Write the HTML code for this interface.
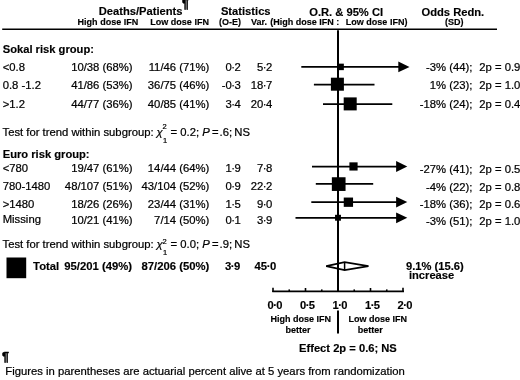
<!DOCTYPE html>
<html><head><meta charset="utf-8"><title>Forest plot</title>
<style>
html,body{margin:0;padding:0;background:#fff;}
body{width:520px;height:380px;overflow:hidden;}
svg{display:block;will-change:transform;font-family:"Liberation Sans",sans-serif;font-size:11.29px;fill:#000;}
svg text{stroke:#000;stroke-width:0.22px;}
svg text[font-weight=bold]{stroke-width:0.15px;}
</style></head><body>
<svg width="520" height="380" viewBox="0 0 520 380">
<rect x="0" y="0" width="520" height="380" fill="#fff"/>
<text x="98.7" y="14.9" font-weight="bold" font-size="11.18">Deaths/Patients</text>
<text x="181.9" y="8.2" font-weight="bold" font-size="12.5" style="stroke-width:0.5px">¶</text>
<text x="220.9" y="14.7" font-weight="bold" font-size="11.18">Statistics</text>
<text x="309.2" y="15.5" font-weight="bold" font-size="11.18">O.R. &amp; 95% CI</text>
<text x="421.5" y="15.7" font-weight="bold" font-size="11.18">Odds Redn.</text>
<text x="77.6" y="25.4" font-weight="bold" font-size="9.03">High dose IFN</text>
<text x="150.3" y="25.4" font-weight="bold" font-size="9.03">Low dose IFN</text>
<text x="219" y="25.15" font-weight="bold" font-size="9.03">(O-E)</text>
<text x="250.9" y="25.15" font-weight="bold" font-size="9.03">Var.</text>
<text x="270.2" y="25.15" font-weight="bold" font-size="9.03">(High dose IFN :</text>
<text x="345.8" y="24.85" font-weight="bold" font-size="9.03">Low dose IFN)</text>
<text x="445" y="24.8" font-weight="bold" font-size="9.03">(SD)</text>
<line x1="2.2" y1="29.3" x2="497" y2="29.3" stroke="#000" stroke-width="1.5"/>
<line x1="338" y1="30.3" x2="338" y2="291.4" stroke="#000" stroke-width="2"/>
<text x="2.7" y="70.5">&lt;0.8</text>
<text x="132.6" y="70.5" text-anchor="end">10/38 (68%)</text>
<text x="209.3" y="70.5" text-anchor="end">11/46 (71%)</text>
<text x="240.8" y="70.5" text-anchor="end">0<tspan dx="-0.5">·</tspan><tspan dx="-0.5">2</tspan></text>
<text x="272.4" y="70.5" text-anchor="end">5<tspan dx="-0.5">·</tspan><tspan dx="-0.5">2</tspan></text>
<line x1="301.3" y1="66.9" x2="401.5" y2="66.9" stroke="#000" stroke-width="1.75"/>
<polygon points="409.5,66.9 398.3,61.50000000000001 398.3,72.30000000000001" fill="#000"/>
<rect x="337.35" y="63.65" width="6.5" height="6.5" fill="#000"/>
<text x="472.4" y="70.5" text-anchor="end">-3% (44);</text>
<text x="479.3" y="70.5">2p = 0.9</text>
<text x="2.7" y="88.75">0.8 -1.2</text>
<text x="132.6" y="88.75" text-anchor="end">41/86 (53%)</text>
<text x="209.3" y="88.75" text-anchor="end">36/75 (46%)</text>
<text x="240.8" y="88.75" text-anchor="end">-0<tspan dx="-0.5">·</tspan><tspan dx="-0.5">3</tspan></text>
<text x="272.4" y="88.75" text-anchor="end">18<tspan dx="-0.5">·</tspan><tspan dx="-0.5">7</tspan></text>
<line x1="313.9" y1="84.5" x2="374.5" y2="84.5" stroke="#000" stroke-width="1.75"/>
<rect x="330.90" y="77.70" width="13" height="13" fill="#000"/>
<text x="472.4" y="88.75" text-anchor="end">1% (23);</text>
<text x="479.3" y="88.75">2p = 1.0</text>
<text x="2.7" y="108.4">&gt;1.2</text>
<text x="132.6" y="108.4" text-anchor="end">44/77 (36%)</text>
<text x="209.3" y="108.4" text-anchor="end">40/85 (41%)</text>
<text x="240.8" y="108.4" text-anchor="end">3<tspan dx="-0.5">·</tspan><tspan dx="-0.5">4</tspan></text>
<text x="272.4" y="108.4" text-anchor="end">20<tspan dx="-0.5">·</tspan><tspan dx="-0.5">4</tspan></text>
<line x1="323" y1="104" x2="392.3" y2="104" stroke="#000" stroke-width="1.75"/>
<rect x="343.70" y="97.40" width="13" height="13" fill="#000"/>
<text x="472.4" y="108.4" text-anchor="end">-18% (24);</text>
<text x="479.3" y="108.4">2p = 0.4</text>
<text x="2.7" y="172.2">&lt;780</text>
<text x="132.6" y="172.2" text-anchor="end">19/47 (61%)</text>
<text x="209.3" y="172.2" text-anchor="end">14/44 (64%)</text>
<text x="240.8" y="172.2" text-anchor="end">1<tspan dx="-0.5">·</tspan><tspan dx="-0.5">9</tspan></text>
<text x="272.4" y="172.2" text-anchor="end">7<tspan dx="-0.5">·</tspan><tspan dx="-0.5">8</tspan></text>
<line x1="312" y1="166.5" x2="399.3" y2="166.5" stroke="#000" stroke-width="1.75"/>
<polygon points="407.3,166.5 396.1,161.1 396.1,171.9" fill="#000"/>
<rect x="349.40" y="162.35" width="8.2" height="8.2" fill="#000"/>
<text x="472.4" y="173.2" text-anchor="end">-27% (41);</text>
<text x="479.3" y="173.2">2p = 0.5</text>
<text x="2.7" y="190">780-1480</text>
<text x="132.6" y="190" text-anchor="end">48/107 (51%)</text>
<text x="209.3" y="190" text-anchor="end">43/104 (52%)</text>
<text x="240.8" y="190" text-anchor="end">0<tspan dx="-0.5">·</tspan><tspan dx="-0.5">9</tspan></text>
<text x="272.4" y="190" text-anchor="end">22<tspan dx="-0.5">·</tspan><tspan dx="-0.5">2</tspan></text>
<line x1="315.8" y1="183.8" x2="373.2" y2="183.8" stroke="#000" stroke-width="1.75"/>
<rect x="331.85" y="177.25" width="13.7" height="13.7" fill="#000"/>
<text x="472.4" y="190.6" text-anchor="end">-4% (22);</text>
<text x="479.3" y="190.6">2p = 0.8</text>
<text x="2.7" y="207.5">&gt;1480</text>
<text x="132.6" y="207.5" text-anchor="end">18/26 (26%)</text>
<text x="209.3" y="207.5" text-anchor="end">23/44 (31%)</text>
<text x="240.8" y="207.5" text-anchor="end">1<tspan dx="-0.5">·</tspan><tspan dx="-0.5">5</tspan></text>
<text x="272.4" y="207.5" text-anchor="end">9<tspan dx="-0.5">·</tspan><tspan dx="-0.5">0</tspan></text>
<line x1="311.3" y1="202.1" x2="399.3" y2="202.1" stroke="#000" stroke-width="1.75"/>
<polygon points="407.3,202.1 396.1,196.7 396.1,207.5" fill="#000"/>
<rect x="343.75" y="197.55" width="9.3" height="9.3" fill="#000"/>
<text x="472.4" y="207.9" text-anchor="end">-18% (36);</text>
<text x="479.3" y="207.9">2p = 0.6</text>
<text x="2.7" y="223">Missing</text>
<text x="132.6" y="223.5" text-anchor="end">10/21 (41%)</text>
<text x="209.3" y="223.5" text-anchor="end">7/14 (50%)</text>
<text x="240.8" y="223.5" text-anchor="end">0<tspan dx="-0.5">·</tspan><tspan dx="-0.5">1</tspan></text>
<text x="272.4" y="223.5" text-anchor="end">3<tspan dx="-0.5">·</tspan><tspan dx="-0.5">9</tspan></text>
<line x1="295.5" y1="217.85" x2="399.3" y2="217.85" stroke="#000" stroke-width="1.75"/>
<polygon points="407.3,217.85 396.1,212.45 396.1,223.25" fill="#000"/>
<rect x="335.05" y="214.80" width="5.9" height="5.9" fill="#000"/>
<text x="472.4" y="225.1" text-anchor="end">-3% (51);</text>
<text x="479.3" y="225.1">2p = 1.0</text>
<text x="2.7" y="53" font-weight="bold" font-size="11.18">Sokal risk group:</text>
<text x="2.7" y="158" font-weight="bold" font-size="11.18">Euro risk group:</text>
<text x="2.5" y="136.0">Test for trend within subgroup:</text>
<text x="156.6" y="136.0" font-style="italic">χ</text>
<text x="162.4" y="129.1" font-size="7.5">2</text>
<text x="162.9" y="142.8" font-size="7.5">1</text>
<text x="170.6" y="136.0">= 0.2;</text>
<text x="202.3" y="136.0" font-style="italic">P</text>
<text x="212" y="136.0">=<tspan dx="1">.6;</tspan><tspan dx="-1"> NS</tspan></text>
<text x="2.5" y="248.0">Test for trend within subgroup:</text>
<text x="156.6" y="248.0" font-style="italic">χ</text>
<text x="162.4" y="243.8" font-size="7.5">2</text>
<text x="162.9" y="254.8" font-size="7.5">1</text>
<text x="170.6" y="248.0">= 0.0;</text>
<text x="202.3" y="248.0" font-style="italic">P</text>
<text x="212" y="248.0">=<tspan dx="1">.9;</tspan><tspan dx="-1"> NS</tspan></text>
<rect x="6.50" y="257.50" width="19.7" height="20.7" fill="#000"/>
<text x="33.1" y="270.3" font-weight="bold" font-size="11.3">Total</text>
<text x="132.1" y="270.3" text-anchor="end" font-weight="bold" font-size="11.3">95/201 (49%)</text>
<text x="209.3" y="270.3" text-anchor="end" font-weight="bold" font-size="11.3">87/206 (50%)</text>
<text x="240.3" y="270.3" text-anchor="end" font-weight="bold" font-size="11.3">3<tspan dx="-0.5">·</tspan><tspan dx="-0.5">9</tspan></text>
<text x="276.2" y="270.3" text-anchor="end" font-weight="bold" font-size="11.3">45<tspan dx="-0.5">·</tspan><tspan dx="-0.5">0</tspan></text>
<text x="406" y="270.2" font-weight="bold" font-size="11.18">9.1% (15.6)</text>
<text x="408.9" y="279" font-weight="bold" font-size="11.18">increase</text>
<polygon points="326.2,266.1 344.6,262.1 368.5,266.1 344.6,270.1" fill="#fff" stroke="#000" stroke-width="1.7"/>
<line x1="344.6" y1="262.1" x2="344.6" y2="270.1" stroke="#000" stroke-width="1.5"/>
<line x1="338" y1="255" x2="338" y2="291.4" stroke="#000" stroke-width="2"/>
<line x1="272.3" y1="291.4" x2="404" y2="291.4" stroke="#000" stroke-width="1.6"/>
<line x1="273.0" y1="287.7" x2="273.0" y2="291.9" stroke="#000" stroke-width="1.6"/>
<line x1="289.25" y1="289.4" x2="289.25" y2="291.9" stroke="#000" stroke-width="1.6"/>
<line x1="305.5" y1="288.0" x2="305.5" y2="291.9" stroke="#000" stroke-width="1.6"/>
<line x1="321.75" y1="289.4" x2="321.75" y2="291.9" stroke="#000" stroke-width="1.6"/>
<line x1="354.25" y1="289.4" x2="354.25" y2="291.9" stroke="#000" stroke-width="1.6"/>
<line x1="370.5" y1="288.0" x2="370.5" y2="291.9" stroke="#000" stroke-width="1.6"/>
<line x1="386.75" y1="289.4" x2="386.75" y2="291.9" stroke="#000" stroke-width="1.6"/>
<line x1="403.0" y1="287.7" x2="403.0" y2="291.9" stroke="#000" stroke-width="1.6"/>
<text x="275.0" y="308.5" text-anchor="middle" font-weight="bold" font-size="11.18">0<tspan dx="-0.5">·</tspan><tspan dx="-0.5">0</tspan></text>
<text x="307.5" y="308.5" text-anchor="middle" font-weight="bold" font-size="11.18">0<tspan dx="-0.5">·</tspan><tspan dx="-0.5">5</tspan></text>
<text x="340.0" y="308.5" text-anchor="middle" font-weight="bold" font-size="11.18">1<tspan dx="-0.5">·</tspan><tspan dx="-0.5">0</tspan></text>
<text x="372.5" y="308.5" text-anchor="middle" font-weight="bold" font-size="11.18">1<tspan dx="-0.5">·</tspan><tspan dx="-0.5">5</tspan></text>
<text x="405.0" y="308.5" text-anchor="middle" font-weight="bold" font-size="11.18">2<tspan dx="-0.5">·</tspan><tspan dx="-0.5">0</tspan></text>
<text x="300.8" y="321.6" text-anchor="middle" font-weight="bold" font-size="9.03">High dose IFN</text>
<text x="298.0" y="333.4" text-anchor="middle" font-weight="bold" font-size="9.03">better</text>
<text x="377.8" y="321.6" text-anchor="middle" font-weight="bold" font-size="9.03">Low dose IFN</text>
<text x="370.3" y="333.4" text-anchor="middle" font-weight="bold" font-size="9.03">better</text>
<line x1="338" y1="310.4" x2="338" y2="333.6" stroke="#000" stroke-width="2"/>
<text x="299" y="351.5" font-weight="bold" font-size="11.18">Effect 2p = 0.6; NS</text>
<text x="1.9" y="360.9" font-weight="bold" font-size="12.5" style="stroke-width:0.5px">¶</text>
<text x="5.3" y="375.2">Figures in parentheses are actuarial percent alive at 5 years from randomization</text>
</svg>
</body></html>
